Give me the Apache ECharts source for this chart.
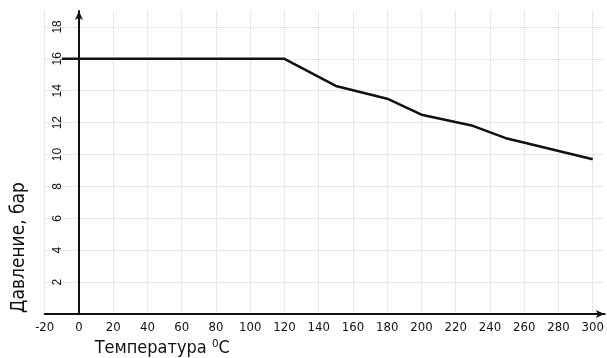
<!DOCTYPE html>
<html>
<head>
<meta charset="utf-8">
<script src="https://cdn.jsdelivr.net/npm/echarts@6/dist/echarts.min.js"></script>
<style>
  html, body { margin: 0; padding: 0; background: #fff; }
  #chart { width: 607px; height: 358px; }
</style>
</head>
<body>
<div id="chart"></div>
<script>
// Pressure vs. temperature curve
const temperature = [-10, 120, 150, 180, 200, 230, 250, 300];
const pressure    = [16, 16, 14.3, 13.5, 12.5, 11.8, 11.0, 9.7];

const xAxisName = 'Температура ⁰C';
const yAxisName = 'Давление, бар';

const narrowFont = '"Liberation Sans Narrow", "DejaVu Sans Condensed", "Roboto", sans-serif';

const chart = echarts.init(document.getElementById('chart'), null, { renderer: 'canvas' });

const gridLine = { show: true, showMaxLine: false, lineStyle: { color: '#d4d4d4', type: 'dotted', width: 1 } };

chart.setOption({
  animation: false,
  backgroundColor: '#ffffff',
  grid: { left: 44.7, right: 2.3, top: 11, bottom: 44, containLabel: false, outerBoundsMode: 'none' },
  xAxis: {
    type: 'value',
    min: -20,
    max: 307,
    interval: 20,
    name: xAxisName,
    nameLocation: 'middle',
    nameGap: 20,
    nameTextStyle: {
      fontFamily: narrowFont, fontSize: 18, color: '#111',
      padding: [0, 325, 0, 0]
    },
    axisLine: {
      show: true, onZero: false,
      symbol: ['none', 'arrow'], symbolSize: [6, 9],
      lineStyle: { color: '#111', width: 2 }
    },
    axisTick: { show: false },
    axisLabel: {
      margin: 7, showMaxLabel: false,
      fontFamily: narrowFont, fontSize: 13, color: '#111'
    },
    splitLine: gridLine
  },
  yAxis: {
    type: 'value',
    min: 0,
    max: 19,
    interval: 2,
    name: yAxisName,
    nameLocation: 'middle',
    nameGap: 16,
    nameRotate: 90,
    nameTextStyle: {
      fontFamily: narrowFont, fontSize: 19, color: '#111',
      padding: [0, 170, 0, 0]
    },
    axisLine: {
      show: true, onZero: true,
      symbol: ['none', 'arrow'], symbolSize: [6, 9],
      lineStyle: { color: '#111', width: 2 }
    },
    axisTick: { show: false },
    axisLabel: {
      inside: true, margin: 7, rotate: 90, showMaxLabel: false,
      formatter: v => (v === 0 ? '' : String(v)),
      fontFamily: '"Liberation Sans", Arial, sans-serif', fontSize: 12, color: '#111'
    },
    splitLine: gridLine
  },
  series: [{
    type: 'line',
    data: temperature.map((t, i) => [t, pressure[i]]),
    showSymbol: false,
    lineStyle: { color: '#111', width: 2.5 },
    z: 3
  }]
});
</script>
</body>
</html>
